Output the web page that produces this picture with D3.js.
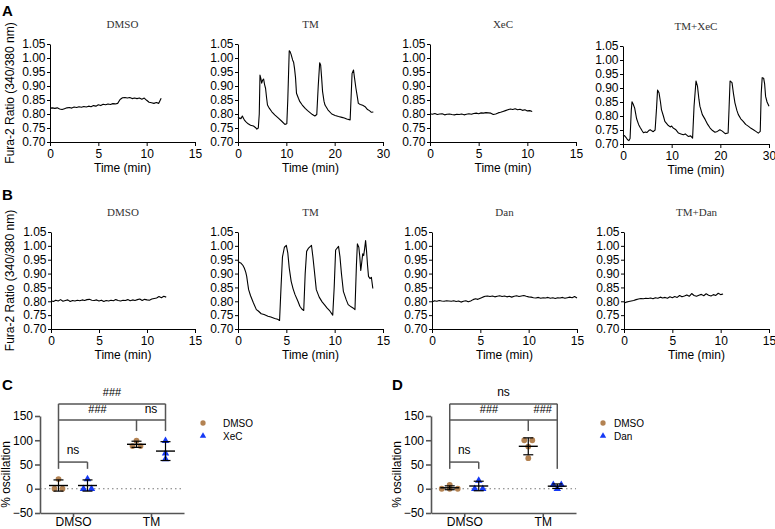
<!DOCTYPE html>
<html><head><meta charset="utf-8">
<script src="https://cdn.jsdelivr.net/npm/d3@7"></script>
<style>body{margin:0;background:#fff} svg{display:block}</style>
</head><body>
<script>
// ---------- DATA ----------
const ratioTicks = [0.70,0.75,0.80,0.85,0.90,0.95,1.00,1.05];
const timeTicks15 = [0,5,10,15];
const timeTicks30 = [0,10,20,30];
const sampleStep = 0.25; // min between samples for evenly sampled traces

// Row A
const aDMSO = [0.821,0.822,0.820,0.822,0.818,0.816,0.819,0.822,0.823,0.821,0.825,0.823,0.826,0.824,0.827,0.825,0.828,0.826,0.830,0.828,0.833,0.830,0.835,0.833,0.836,0.834,0.837,0.836,0.838,0.852,0.858,0.859,0.857,0.859,0.855,0.857,0.855,0.857,0.853,0.857,0.849,0.842,0.840,0.838,0.841,0.838,0.856];
const aTM = [[0,0.788],[0.2,0.784],[0.4,0.786],[0.6,0.783],[0.9,0.793],[1.1,0.786],[1.3,0.779],[1.6,0.773],[2.1,0.765],[2.6,0.760],[3.2,0.757],[3.6,0.752],[3.9,0.746],[4.2,0.750],[4.4,0.800],[4.55,0.939],[4.75,0.925],[4.9,0.910],[5.1,0.921],[5.3,0.925],[5.5,0.905],[5.7,0.892],[5.9,0.860],[6.1,0.832],[6.5,0.820],[7.0,0.808],[7.6,0.797],[8.3,0.786],[9.0,0.775],[9.7,0.763],[10.1,0.765],[10.3,0.850],[10.6,1.026],[10.8,1.022],[11.0,1.012],[11.3,0.993],[11.5,0.985],[11.7,0.962],[11.9,0.930],[12.1,0.874],[12.5,0.856],[12.8,0.844],[13.3,0.832],[13.9,0.820],[14.4,0.812],[14.9,0.805],[15.4,0.798],[15.9,0.793],[16.3,0.798],[16.6,0.900],[16.9,0.983],[17.1,0.975],[17.3,0.930],[17.5,0.880],[17.8,0.845],[18.0,0.832],[18.6,0.815],[19.4,0.800],[20.1,0.795],[20.8,0.791],[21.5,0.788],[22.0,0.786],[22.5,0.782],[23.2,0.779],[23.4,0.860],[23.6,0.945],[23.9,0.957],[24.1,0.930],[24.4,0.892],[24.7,0.860],[24.9,0.838],[25.3,0.834],[25.8,0.831],[26.3,0.826],[26.8,0.816],[27.2,0.812],[27.6,0.806],[28.0,0.807]];
const aXeC = [0.801,0.799,0.802,0.798,0.800,0.801,0.797,0.799,0.800,0.798,0.797,0.799,0.798,0.800,0.797,0.799,0.801,0.799,0.802,0.803,0.801,0.804,0.803,0.805,0.804,0.803,0.798,0.800,0.804,0.806,0.809,0.812,0.815,0.818,0.816,0.819,0.815,0.817,0.813,0.815,0.811,0.812,0.809];
const aTMXeC = [[0,0.728],[0.3,0.730],[0.6,0.724],[0.9,0.716],[1.2,0.712],[1.45,0.720],[1.7,0.820],[1.85,0.851],[2.1,0.842],[2.4,0.828],[2.8,0.790],[3.2,0.770],[3.5,0.760],[3.9,0.748],[4.2,0.740],[4.6,0.743],[4.9,0.741],[5.3,0.748],[5.6,0.751],[5.9,0.747],[6.2,0.744],[6.6,0.750],[6.9,0.830],[7.1,0.893],[7.4,0.883],[7.7,0.850],[7.9,0.823],[8.3,0.800],[8.6,0.781],[9.2,0.768],[9.7,0.761],[10.0,0.764],[10.3,0.757],[10.8,0.752],[11.4,0.739],[11.9,0.736],[12.4,0.733],[12.8,0.736],[13.4,0.727],[13.9,0.729],[14.3,0.721],[14.6,0.835],[15.0,0.925],[15.3,0.907],[15.6,0.860],[15.8,0.835],[16.3,0.805],[16.9,0.787],[17.4,0.770],[17.9,0.757],[18.4,0.748],[18.9,0.742],[19.4,0.745],[19.9,0.751],[20.4,0.746],[21.0,0.737],[21.6,0.739],[21.8,0.830],[22.0,0.925],[22.4,0.919],[22.7,0.880],[23.0,0.847],[23.4,0.820],[23.7,0.805],[24.2,0.790],[24.7,0.781],[25.2,0.770],[25.8,0.763],[26.3,0.756],[26.8,0.751],[27.3,0.745],[27.8,0.739],[28.2,0.745],[28.4,0.880],[28.6,0.937],[28.9,0.935],[29.1,0.915],[29.3,0.870],[29.6,0.850],[30.0,0.835]];

// Row B
const bDMSO = [0.802,0.799,0.804,0.801,0.806,0.800,0.803,0.805,0.799,0.803,0.801,0.804,0.802,0.805,0.803,0.806,0.807,0.804,0.803,0.805,0.801,0.804,0.799,0.803,0.801,0.804,0.802,0.806,0.803,0.801,0.804,0.803,0.806,0.802,0.805,0.803,0.806,0.808,0.803,0.807,0.805,0.804,0.808,0.810,0.812,0.817,0.813,0.818,0.815];
const bTM = [[0,0.944],[0.15,0.940],[0.3,0.938],[0.5,0.930],[0.65,0.920],[0.8,0.905],[0.9,0.890],[1.0,0.865],[1.1,0.842],[1.3,0.820],[1.6,0.794],[1.9,0.770],[2.1,0.765],[2.4,0.755],[2.7,0.752],[3.1,0.746],[3.4,0.743],[3.8,0.738],[4.1,0.735],[4.3,0.731],[4.45,0.850],[4.6,0.960],[4.8,0.995],[5.0,1.002],[5.15,0.975],[5.3,0.920],[5.5,0.872],[5.7,0.845],[5.9,0.824],[6.2,0.800],[6.4,0.782],[6.6,0.772],[6.8,0.767],[6.95,0.900],[7.1,0.980],[7.3,0.992],[7.6,1.002],[7.75,0.960],[7.9,0.910],[8.1,0.842],[8.4,0.815],[8.7,0.798],[9.0,0.785],[9.2,0.776],[9.5,0.765],[9.8,0.750],[9.95,0.850],[10.1,0.985],[10.4,0.998],[10.55,0.960],[10.7,0.900],[10.9,0.836],[11.2,0.805],[11.4,0.788],[11.7,0.780],[11.9,0.776],[12.1,0.770],[12.25,0.930],[12.35,1.007],[12.5,0.995],[12.6,0.960],[12.7,0.911],[12.8,0.940],[12.9,0.971],[13.0,0.965],[13.1,0.990],[13.2,1.019],[13.3,0.980],[13.4,0.930],[13.5,0.890],[13.65,0.882],[13.8,0.886],[13.95,0.846]];
const bDan = [0.797,0.802,0.800,0.803,0.801,0.800,0.802,0.801,0.800,0.802,0.799,0.801,0.797,0.800,0.802,0.798,0.801,0.806,0.809,0.807,0.811,0.815,0.818,0.819,0.817,0.819,0.816,0.818,0.820,0.817,0.819,0.816,0.818,0.815,0.818,0.820,0.817,0.819,0.821,0.818,0.816,0.815,0.813,0.812,0.814,0.811,0.813,0.812,0.814,0.811,0.813,0.810,0.813,0.812,0.814,0.811,0.813,0.815,0.813,0.817,0.812];
const bTMDan = [0.793,0.797,0.799,0.801,0.803,0.806,0.808,0.810,0.809,0.811,0.810,0.812,0.809,0.813,0.811,0.815,0.812,0.814,0.811,0.816,0.813,0.817,0.814,0.821,0.816,0.819,0.823,0.818,0.828,0.821,0.818,0.822,0.825,0.820,0.827,0.822,0.819,0.824,0.821,0.829,0.824,0.826];

// Panels C/D (% oscillation)
const oscCategories = ["DMSO","TM"];
const oscTicks = [-50,0,50,100,150];
const cDMSO_DMSO = [20,0,0];
const cDMSO_XeC = [20,0,0];
const cTM_DMSO = [99,88,88];
const cTM_XeC = [99,73,61];
const dDMSO_DMSO = [8,0,0,0];
const dDMSO_Dan = [17,0,0];
const dTM_DMSO = [100,100,87,63];
const dTM_Dan = [8,8,0];

// ---------- DRAW ----------
const W = 775, H = 529;
const FONT = "'Liberation Sans', Arial, Helvetica, sans-serif";
const SERIF = "'Liberation Serif', 'Times New Roman', serif";
const brown = "#b38252", blue = "#1539f5";

const svg = d3.select("body").append("svg").attr("width", W).attr("height", H)
  .attr("font-family", FONT);

function even(vals){ return vals.map((v,i)=>[i*sampleStep, v]); }

function tracePanel(c){
  const x = d3.scaleLinear().domain([0, c.xmax]).range([c.x0, c.x1]);
  const y = d3.scaleLinear().domain([0.70, 1.05]).range([c.y1, c.y0]);
  const g = svg.append("g");
  const ya = g.append("g").attr("transform", `translate(${c.x0},0)`)
    .call(d3.axisLeft(y).tickValues(ratioTicks).tickFormat(d3.format(".2f")).tickSize(3).tickSizeOuter(0).tickPadding(1.5));
  const xa = g.append("g").attr("transform", `translate(0,${c.y1})`)
    .call(d3.axisBottom(x).tickValues(c.ticks).tickSize(4).tickSizeOuter(0).tickPadding(3));
  [ya, xa].forEach(a => {
    a.selectAll("text").attr("font-size", 12).attr("font-family", FONT).attr("fill", "#000");
    a.selectAll("line,path").attr("stroke", "#000").attr("stroke-width", 1);
  });
  g.append("path").datum(c.data)
    .attr("fill", "none").attr("stroke", "#000").attr("stroke-width", 1.1).attr("stroke-linejoin","round")
    .attr("d", d3.line().x(d => x(d[0])).y(d => y(d[1])));
  g.append("text").attr("x", (c.x0 + c.x1)/2).attr("y", c.y0 - 16)
    .attr("text-anchor", "middle").attr("font-family", SERIF).attr("font-weight","normal")
    .attr("fill", "#333").attr("font-size", 11).text(c.title);
  g.append("text").attr("x", (c.x0 + c.x1)/2).attr("y", c.y1 + 30)
    .attr("text-anchor", "middle").attr("font-size", 12).text("Time (min)");
  if (c.ylab){
    g.append("text").attr("transform", `translate(14,${(c.y0+c.y1)/2}) rotate(-90)`)
      .attr("text-anchor", "middle").attr("font-size", 12).text("Fura-2 Ratio (340/380 nm)");
  }
}

tracePanel({x0:50, x1:195, y0:44, y1:142, xmax:15, ticks:timeTicks15, data:even(aDMSO), title:"DMSO", ylab:true});
tracePanel({x0:238, x1:383, y0:44, y1:142, xmax:30, ticks:timeTicks30, data:aTM, title:"TM"});
tracePanel({x0:430, x1:576, y0:44, y1:142, xmax:15, ticks:timeTicks15, data:even(aXeC), title:"XeC"});
tracePanel({x0:623, x1:769, y0:46, y1:144, xmax:30, ticks:timeTicks30, data:aTMXeC, title:"TM+XeC"});

tracePanel({x0:51, x1:195, y0:232, y1:329, xmax:15, ticks:timeTicks15, data:even(bDMSO), title:"DMSO", ylab:true});
tracePanel({x0:238, x1:383, y0:232, y1:329, xmax:15, ticks:timeTicks15, data:bTM, title:"TM"});
tracePanel({x0:432, x1:577, y0:232, y1:329, xmax:15, ticks:timeTicks15, data:even(bDan), title:"Dan"});
tracePanel({x0:624, x1:769, y0:232, y1:329, xmax:15, ticks:timeTicks15, data:even(bTMDan), title:"TM+Dan"});

// panel letters
[["A",2,16],["B",2,200],["C",2,390],["D",392,390]].forEach(([t,x,y]) =>
  svg.append("text").attr("x",x).attr("y",y).attr("font-size",15).attr("font-weight","bold").text(t));

function oscPanel(c){
  const x = d3.scalePoint().domain(oscCategories).range([c.x0, c.x1]).padding(0.423);
  const y = d3.scaleLinear().domain([-50,150]).range([513,416]);
  const g = svg.append("g");
  const off = 14.5;
  g.append("line").attr("x1", c.x0).attr("x2", c.x1).attr("y1", y(0)).attr("y2", y(0))
    .attr("stroke", "#777").attr("stroke-width", 1).attr("stroke-dasharray", "1.5,3");
  const ya = g.append("g").attr("transform", `translate(${c.x0},0)`)
    .call(d3.axisLeft(y).tickValues(oscTicks).tickSize(5).tickSizeOuter(0).tickPadding(2));
  const xa = g.append("g").attr("transform", `translate(0,513)`)
    .call(d3.axisBottom(x).tickSize(4).tickSizeOuter(0).tickPadding(0));
  [ya, xa].forEach(a => {
    a.selectAll("text").attr("font-size", 12).attr("font-family", FONT).attr("fill", "#000");
    a.selectAll("line,path").attr("stroke", "#555").attr("stroke-width", 1.6);
  });
  g.append("text").attr("transform", `translate(${c.x0-30},${y(50)+10}) rotate(-90)`)
    .attr("text-anchor","middle").attr("font-size",12).text("% oscillation");

  const sets = [
    {cat:"DMSO", dx:-off, vals:c.s[0], col:brown, shape:"circle"},
    {cat:"DMSO", dx: off, vals:c.s[1], col:blue, shape:"triangle"},
    {cat:"TM",   dx:-off, vals:c.s[2], col:brown, shape:"circle"},
    {cat:"TM",   dx: off, vals:c.s[3], col:blue, shape:"triangle"}
  ];
  const px = s => x(s.cat) + s.dx;
  sets.forEach(s => {
    const cx = px(s);
    const sorted = s.vals.slice().sort((a,b)=>a-b);
    const clusters = [];
    sorted.forEach(v => {
      const last = clusters[clusters.length-1];
      if (last && Math.abs(last[0]-v) < 6) last.push(v); else clusters.push([v]);
    });
    const sym = d3.symbol().type(s.shape === "circle" ? d3.symbolCircle : d3.symbolTriangle).size(s.shape==="circle"?26:24);
    clusters.forEach(cl => cl.forEach((v,k) => {
      const xx = cx + (k - (cl.length-1)/2) * 8;
      g.append("path").attr("d", sym()).attr("transform", `translate(${xx},${y(v)})`).attr("fill", s.col);
    }));
    const m = d3.mean(s.vals), d = d3.deviation(s.vals);
    g.append("line").attr("x1", cx-9.5).attr("x2", cx+9.5).attr("y1", y(m)).attr("y2", y(m)).attr("stroke","#000").attr("stroke-width",1.4);
    g.append("line").attr("x1", cx).attr("x2", cx).attr("y1", y(m-d)).attr("y2", y(m+d)).attr("stroke","#000").attr("stroke-width",1.2);
    [m-d, m+d].forEach(v => g.append("line").attr("x1", cx-5).attr("x2", cx+5).attr("y1", y(v)).attr("y2", y(v)).attr("stroke","#000").attr("stroke-width",1.2));
  });
  const xa0 = px(sets[0]), xb0 = px(sets[1]), xa1 = px(sets[2]), xb1 = px(sets[3]);
  const ln = (x1,y1,x2,y2) => g.append("line").attr("x1",x1).attr("y1",y(y1)).attr("x2",x2).attr("y2",y(y2)).attr("stroke","#555").attr("stroke-width",1.5);
  ln(xa0,41, xa0,175); ln(xa0,175, xb1,175); ln(xb1,175, xb1,c.rightDrop);
  ln(xa0,142, xb1,142); ln(xa1,142, xa1,119);
  ln(xa0,55, xb0,55); ln(xb0,55, xb0,41);
  const txt = (t,xx,v,fs) => g.append("text").attr("x",xx).attr("y",y(v)).attr("text-anchor","middle").attr("font-size",fs).text(t);
  txt(c.topLabel, (xa0+xb1)/2, 191, c.topLabel==="ns"?12:11);
  txt(c.midLabels[0], (xa0+xa1)/2, 156, c.midLabels[0]==="ns"?12:11);
  txt(c.midLabels[1], (xa1+xb1)/2, 156, c.midLabels[1]==="ns"?12:11);
  txt("ns", (xa0+xb0)/2, 71, 12);

  g.append("path").attr("d", d3.symbol().type(d3.symbolCircle).size(22)()).attr("transform",`translate(${c.lx},423)`).attr("fill",brown);
  g.append("path").attr("d", d3.symbol().type(d3.symbolTriangle).size(18)()).attr("transform",`translate(${c.lx},436)`).attr("fill",blue);
  g.append("text").attr("x",c.lx+c.lgap).attr("y",427).attr("font-size",10).text("DMSO");
  g.append("text").attr("x",c.lx+c.lgap).attr("y",440).attr("font-size",10).text(c.drug);
}

oscPanel({x0:40, x1:184, s:[cDMSO_DMSO,cDMSO_XeC,cTM_DMSO,cTM_XeC], rightDrop:119, topLabel:"###", midLabels:["###","ns"], lx:203, lgap:20, drug:"XeC"});
oscPanel({x0:431, x1:576, s:[dDMSO_DMSO,dDMSO_Dan,dTM_DMSO,dTM_Dan], rightDrop:41, topLabel:"ns", midLabels:["###","###"], lx:603, lgap:11, drug:"Dan"});
</script>
</body></html>
